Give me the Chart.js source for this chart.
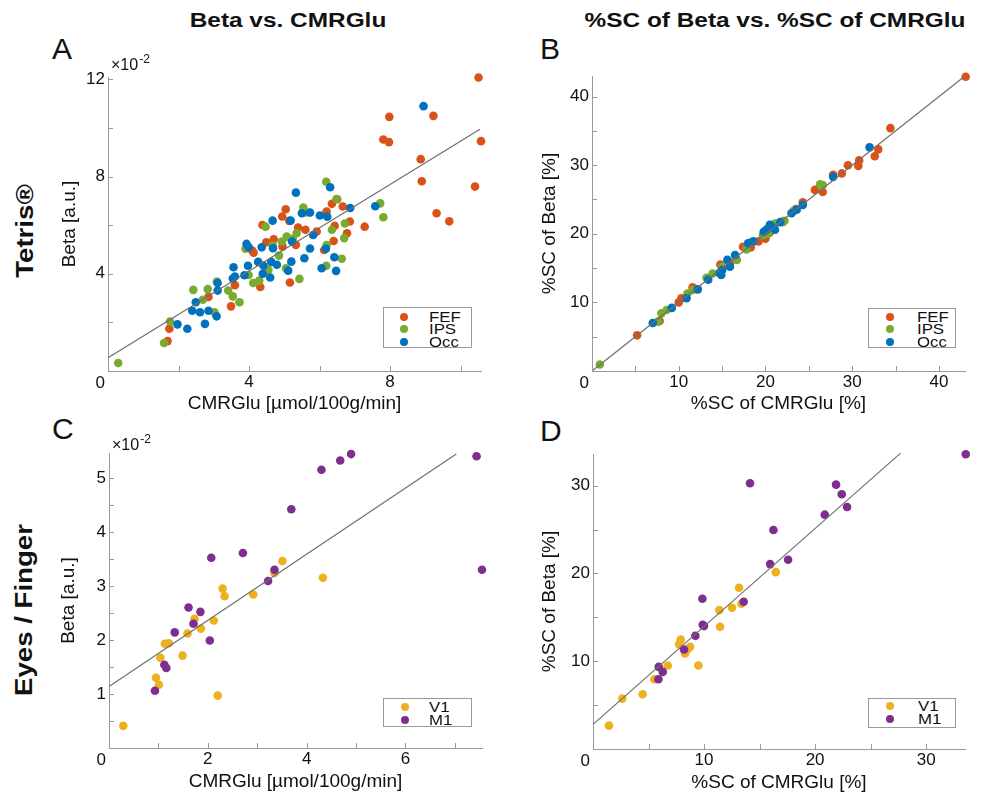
<!DOCTYPE html>
<html>
<head>
<meta charset="utf-8">
<script src="https://cdn.jsdelivr.net/npm/chart.js@4.4.1/dist/chart.umd.min.js"></script>
<style>
    body { margin: 0; background: #fff; width: 988px; height: 795px; overflow: hidden; position: relative; font-family: "Liberation Sans", Arial, sans-serif; color: #111; }
    canvas { position: absolute; }
    .hdr { position: absolute; top: 9px; font-weight: bold; font-size: 20px; line-height: 22px; white-space: nowrap; transform: translateX(-50%) scaleX(1.22); }
    .row { position: absolute; font-weight: bold; font-size: 24px; line-height: 26px; white-space: nowrap; transform: translate(-50%, -50%) rotate(-90deg) scaleX(1.15); }
    .letter { position: absolute; font-size: 30px; line-height: 30px; }
    .leg { position: absolute; background: #fff; border: 1.5px solid #9a9a9a; box-sizing: border-box; }
    .leg .dot { position: absolute; width: 8px; height: 8px; border-radius: 50%; }
    .leg .txt { position: absolute; font-size: 14px; line-height: 14px; transform: scaleX(1.2); transform-origin: left center; }
</style>
</head>
<body>
<div class="hdr" style="left:288px">Beta vs. CMRGlu</div>
<div class="hdr" style="left:775px">%SC of Beta vs. %SC of CMRGlu</div>
<div class="row" style="left:25px;top:231px">Tetris®</div>
<div class="row" style="left:24px;top:610px">Eyes / Finger</div>
<div class="letter" style="left:52px;top:34px">A</div>
<div class="letter" style="left:540px;top:34px">B</div>
<div class="letter" style="left:52px;top:414px">C</div>
<div class="letter" style="left:540px;top:416px">D</div>

<canvas id="chartA" width="470" height="390" style="left:30px;top:40px"></canvas>
<canvas id="chartB" width="460" height="390" style="left:520px;top:40px"></canvas>
<canvas id="chartC" width="470" height="375" style="left:30px;top:420px"></canvas>
<canvas id="chartD" width="460" height="375" style="left:520px;top:420px"></canvas>

<script>
// ---- data (Beta shown in units of 1e-2) ----
const fefCmr  = [10.51, 7.98, 9.23, 7.81, 7.97, 10.58, 8.87, 8.90, 10.41, 9.32, 9.68, 7.28, 6.86, 6.50, 6.35, 6.66, 6.20, 6.43, 6.78, 6.40, 6.13, 5.92, 5.60, 5.39, 5.33, 5.04, 4.94, 5.14, 4.38, 4.70, 4.49, 4.09, 4.13, 4.95, 5.16, 4.32, 3.60, 3.49, 2.85, 1.74, 1.69];
const fefBeta = [12.08, 10.46, 10.50, 9.53, 9.42, 9.46, 8.72, 7.81, 7.59, 6.49, 6.16, 5.94, 6.15, 7.07, 6.88, 6.77, 6.56, 5.98, 5.67, 5.35, 4.98, 5.74, 5.81, 5.90, 5.19, 6.66, 6.36, 6.18, 6.01, 5.42, 5.30, 4.96, 4.87, 5.12, 3.64, 3.46, 3.53, 2.66, 3.05, 1.74, 1.23];

const ipsCmr  = [0.29, 1.59, 1.76, 2.42, 2.83, 2.69, 3.02, 3.09, 3.41, 3.54, 3.73, 3.90, 3.99, 4.12, 4.29, 4.55, 4.47, 4.67, 4.93, 5.07, 5.35, 5.43, 5.05, 5.54, 5.61, 6.19, 6.48, 6.19, 6.35, 6.63, 6.70, 6.72, 7.72, 7.81, 6.20, 4.85, 5.24];
const ipsBeta = [0.33, 1.15, 2.04, 3.34, 3.37, 2.93, 2.42, 3.68, 3.31, 3.07, 2.83, 5.03, 3.95, 3.62, 3.72, 4.16, 5.94, 5.16, 5.33, 5.53, 5.67, 3.79, 4.23, 6.73, 6.53, 7.79, 7.08, 4.33, 5.81, 4.62, 5.47, 6.07, 6.90, 6.33, 5.18, 4.75, 5.44];

const occCmr  = [8.95, 7.58, 6.87, 6.30, 6.01, 6.22, 5.73, 5.33, 5.18, 5.50, 5.82, 5.73, 6.18, 6.06, 5.57, 5.20, 5.11, 6.42, 6.47, 4.67, 4.36, 4.68, 4.41, 4.26, 4.63, 4.79, 4.39, 4.60, 3.93, 3.99, 3.97, 3.87, 3.56, 3.60, 3.54, 3.11, 3.11, 3.08, 2.85, 2.49, 2.39, 2.61, 2.75, 2.25, 1.97, 5.22];
const occBeta = [10.90, 6.78, 6.71, 7.56, 6.40, 6.35, 6.52, 7.34, 6.19, 6.49, 5.60, 5.04, 5.03, 4.23, 4.64, 4.50, 4.13, 4.68, 4.12, 6.19, 5.09, 5.05, 4.33, 4.49, 4.49, 4.37, 4.00, 3.85, 5.23, 5.09, 4.33, 3.94, 4.27, 3.89, 3.81, 3.62, 3.31, 2.25, 2.48, 2.83, 2.48, 2.42, 1.94, 1.74, 1.92, 5.33];
const fitA = [[0, 0.55], [10.55, 9.95]];

const fefScCmr  = [43.08, 34.4, 32.6, 33.0, 30.7, 30.8, 29.5, 28.8, 27.8, 26.6, 25.7, 24.3, 20.0, 17.4, 15.9, 14.8, 11.6, 10.3, 10.0, 7.8, 5.2, 19.2, 21.0, 22.0, 16.6, 13.3, 23.5, 18.3, 20.5];
const fefScBeta = [42.9, 35.4, 31.3, 32.3, 29.9, 30.7, 30.0, 28.8, 28.6, 26.1, 26.4, 24.6, 19.3, 18.1, 15.7, 15.5, 12.2, 10.6, 10.0, 7.3, 5.2, 18.9, 21.2, 21.8, 16.4, 13.5, 23.6, 18.0, 20.2];
const ipsScCmr  = [0.9, 8.0, 8.6, 11.6, 13.2, 13.9, 16.7, 17.8, 19.7, 21.1, 22.2, 23.2, 26.6, 18.2, 7.6, 11.0, 15.0, 20.3, 22.0, 26.3];
const ipsScBeta = [0.95, 8.4, 8.9, 11.8, 13.6, 14.2, 16.2, 17.7, 19.8, 21.5, 21.9, 23.3, 27.1, 18.7, 7.2, 11.3, 15.2, 20.0, 21.7, 27.2];
const occScCmr  = [7.0, 9.2, 10.9, 12.2, 13.4, 14.7, 15.0, 15.6, 15.9, 18.0, 18.6, 20.1, 20.5, 21.1, 21.7, 23.0, 23.6, 24.3, 27.8, 32.0, 16.5, 14.9, 20.8, 19.8];
const occScBeta = [7.0, 9.2, 10.6, 11.9, 13.3, 14.3, 14.7, 16.2, 15.2, 18.6, 18.9, 20.6, 21.3, 20.6, 21.7, 23.0, 23.5, 24.2, 28.3, 32.6, 16.9, 14.0, 21.0, 20.3];
const fitB = [[0, 0], [43, 43]];

const v1Cmr  = [0.29, 0.95, 1.01, 1.04, 1.13, 1.21, 1.49, 1.59, 1.73, 1.86, 2.12, 2.20, 2.30, 2.34, 2.92, 3.35, 3.51, 4.33];
const v1Beta = [0.41, 1.30, 1.17, 1.67, 1.93, 1.94, 1.71, 2.12, 2.39, 2.21, 2.36, 0.97, 2.95, 2.81, 2.84, 3.24, 3.46, 3.15];
const m1Cmr  = [0.93, 1.12, 1.16, 1.33, 1.61, 1.71, 1.85, 2.04, 2.07, 2.71, 3.22, 3.35, 3.69, 4.30, 4.68, 4.90, 7.44, 7.55];
const m1Beta = [1.06, 1.54, 1.48, 2.14, 2.60, 2.30, 2.52, 1.99, 3.52, 3.61, 3.09, 3.30, 4.42, 5.15, 5.32, 5.44, 5.40, 3.30];
const fitC = [[0, 1.14], [7.03, 5.44]];

const v1ScCmr  = [1.44, 2.64, 4.47, 5.53, 6.73, 7.75, 7.90, 8.29, 8.50, 8.74, 9.49, 11.44, 11.38, 12.52, 13.15, 13.36, 16.46];
const v1ScBeta = [2.66, 5.74, 6.24, 7.95, 9.51, 11.94, 12.47, 10.87, 11.33, 11.63, 9.51, 13.92, 15.82, 16.08, 18.37, 16.54, 20.15];
const m1ScCmr  = [5.89, 5.92, 6.28, 8.20, 9.22, 9.88, 10.0, 9.85, 13.57, 14.14, 15.95, 16.25, 17.57, 20.87, 21.89, 22.40, 22.88, 33.57];
const m1ScBeta = [7.95, 9.35, 8.78, 11.33, 12.89, 14.14, 14.0, 17.11, 16.77, 30.27, 21.06, 24.94, 21.56, 26.69, 30.11, 29.01, 27.57, 33.57];
const fitD = [[0, 2.8], [27.7, 33.7]];

const colors = { FEF: "#D95319", IPS: "#77AC30", Occ: "#0072BD", V1: "#EDB120", M1: "#7E2F8E" };
const axisColor = "#999999";
const fontFamily = "'Liberation Sans', Arial, sans-serif";

function toPoints(xs, ys) {
    return xs.map((x, i) => ({ x: x, y: ys[i] }));
}

// MATLAB-like inner ticks, shared corner "0" and the x10^-2 exponent
const matlabAxes = {
    id: "matlabAxes",
    afterDraw(chart, args, opts) {
        const { ctx, chartArea } = chart;
        const xs = chart.scales.x, ys = chart.scales.y;
        ctx.save();
        ctx.strokeStyle = axisColor;
        ctx.lineWidth = 1;
        ctx.beginPath();
        xs.ticks.forEach(t => {
            const px = Math.round(xs.getPixelForValue(t.value)) + 0.5;
            ctx.moveTo(px, chartArea.bottom);
            ctx.lineTo(px, chartArea.bottom - 5);
        });
        ys.ticks.forEach(t => {
            const py = Math.round(ys.getPixelForValue(t.value)) + 0.5;
            ctx.moveTo(chartArea.left, py);
            ctx.lineTo(chartArea.left + 5, py);
        });
        ctx.stroke();

        ctx.fillStyle = "#111";
        ctx.font = "17px " + fontFamily;
        ctx.textAlign = "right";
        ctx.textBaseline = "alphabetic";
        ctx.fillText("0", chartArea.left - 3, chartArea.bottom + 17);

        if (opts.expo) {
            const x0 = chartArea.left + 3;
            const base = chartArea.top + opts.expoDy;
            ctx.textAlign = "left";
            ctx.font = "16px " + fontFamily;
            ctx.fillText("×10", x0, base);
            const w = ctx.measureText("×10").width;
            ctx.font = "12px " + fontFamily;
            ctx.fillText("-2", x0 + w + 1, base - 7);
        }
        ctx.restore();
    }
};

function labelEvery(every) {
    return v => {
        const r = v / every;
        return (v !== 0 && Math.abs(r - Math.round(r)) < 1e-6) ? String(Math.round(v * 100) / 100) : "";
    };
}

function makeAxis(cfg) {
    return {
        type: "linear",
        min: 0,
        max: cfg.max,
        border: { display: true, color: axisColor, width: 1 },
        grid: { display: false, drawTicks: false },
        ticks: {
            stepSize: cfg.step,
            includeBounds: false,
            autoSkip: false,
            maxRotation: 0,
            padding: cfg.pad,
            color: "#111",
            font: { family: fontFamily, size: 17 },
            callback: labelEvery(cfg.every)
        },
        title: { display: true, text: cfg.title, color: "#111", padding: 0, font: { family: fontFamily, size: 19 } },
        afterFit: cfg.fit
    };
}

function buildPanel(id, rect, area, yw, xh, series, fit, xAx, yAx, expoDy) {
    const datasets = [{
        data: fit.map(p => ({ x: p[0], y: p[1] })),
        showLine: true,
        borderColor: "#6f6f6f",
        borderWidth: 1.2,
        pointRadius: 0,
        clip: false,
        order: 0
    }];
    series.forEach((s, i) => {
        datasets.push({
            label: s.name,
            data: toPoints(s.x, s.y),
            backgroundColor: colors[s.name],
            pointRadius: 4.3,
            pointBorderWidth: 0,
            clip: false,
            order: series.length - i
        });
    });
    new Chart(document.getElementById(id), {
        type: "scatter",
        data: { datasets },
        options: {
            responsive: false,
            animation: false,
            devicePixelRatio: 1,
            events: [],
            layout: {
                padding: {
                    left: area.l - rect.l - yw,
                    top: area.t - rect.t,
                    right: rect.l + rect.w - area.r,
                    bottom: rect.t + rect.h - area.b - xh
                }
            },
            scales: {
                x: makeAxis(Object.assign({ pad: 1, fit: s => { s.height = xh; } }, xAx)),
                y: makeAxis(Object.assign({ pad: 3, fit: s => { s.width = yw; } }, yAx))
            },
            plugins: {
                legend: { display: false },
                tooltip: { enabled: false },
                matlabAxes: { expo: expoDy !== undefined, expoDy: expoDy }
            }
        },
        plugins: [matlabAxes]
    });
}

// legend boxes drawn as plain html
function makeLegend(box, dotX, textX, firstRow, rowH, names) {
    const el = document.createElement("div");
    el.className = "leg";
    el.style.cssText = `left:${box.l}px;top:${box.t}px;width:${box.w}px;height:${box.h}px`;
    names.forEach((n, i) => {
        const cy = firstRow + i * rowH;
        const dot = document.createElement("div");
        dot.className = "dot";
        dot.style.cssText = `left:${dotX - 4}px;top:${cy - 4}px;background:${colors[n]}`;
        const txt = document.createElement("div");
        txt.className = "txt";
        txt.style.cssText = `left:${textX}px;top:${cy - 7}px`;
        txt.textContent = n;
        el.appendChild(dot);
        el.appendChild(txt);
    });
    document.body.appendChild(el);
}

const xCmr = "CMRGlu [µmol/100g/min]";
const xSc = "%SC of CMRGlu [%]";
const yBeta = "Beta [a.u.]";
const ySc = "%SC of Beta [%]";

buildPanel("chartA", { l: 30, t: 40, w: 470, h: 390 }, { l: 108, t: 77, r: 481, b: 371 }, 50, 44,
    [{ name: "FEF", x: fefCmr, y: fefBeta }, { name: "IPS", x: ipsCmr, y: ipsBeta }, { name: "Occ", x: occCmr, y: occBeta }],
    fitA,
    { max: 10.58, step: 2, every: 4, title: xCmr },
    { max: 12.1, step: 2, every: 4, title: yBeta }, -7);

buildPanel("chartB", { l: 520, t: 40, w: 460, h: 390 }, { l: 592, t: 76, r: 965, b: 371 }, 54, 44,
    [{ name: "FEF", x: fefScCmr, y: fefScBeta }, { name: "IPS", x: ipsScCmr, y: ipsScBeta }, { name: "Occ", x: occScCmr, y: occScBeta }],
    fitB,
    { max: 43, step: 5, every: 10, title: xSc },
    { max: 43, step: 5, every: 10, title: ySc });

buildPanel("chartC", { l: 30, t: 420, w: 470, h: 375 }, { l: 109, t: 453, r: 482, b: 748 }, 52, 45,
    [{ name: "V1", x: v1Cmr, y: v1Beta }, { name: "M1", x: m1Cmr, y: m1Beta }],
    fitC,
    { max: 7.55, step: 1, every: 2, title: xCmr },
    { max: 5.46, step: 0.5, every: 1, title: yBeta }, -3);

buildPanel("chartD", { l: 520, t: 420, w: 460, h: 375 }, { l: 593, t: 454, r: 965, b: 749 }, 55, 45,
    [{ name: "V1", x: v1ScCmr, y: v1ScBeta }, { name: "M1", x: m1ScCmr, y: m1ScBeta }],
    fitD,
    { max: 33.5, step: 5, every: 10, title: xSc },
    { max: 33.6, step: 5, every: 10, title: ySc });

makeLegend({ l: 383, t: 307, w: 89, h: 41 }, 20, 45, 8.7, 12.65, ["FEF", "IPS", "Occ"]);
makeLegend({ l: 868, t: 308, w: 88, h: 40 }, 21, 48, 7.7, 12.65, ["FEF", "IPS", "Occ"]);
makeLegend({ l: 383, t: 698, w: 89, h: 29 }, 21, 45, 8, 12.7, ["V1", "M1"]);
makeLegend({ l: 868, t: 698, w: 88, h: 30 }, 21, 49, 7, 12.7, ["V1", "M1"]);
</script>
</body>
</html>
